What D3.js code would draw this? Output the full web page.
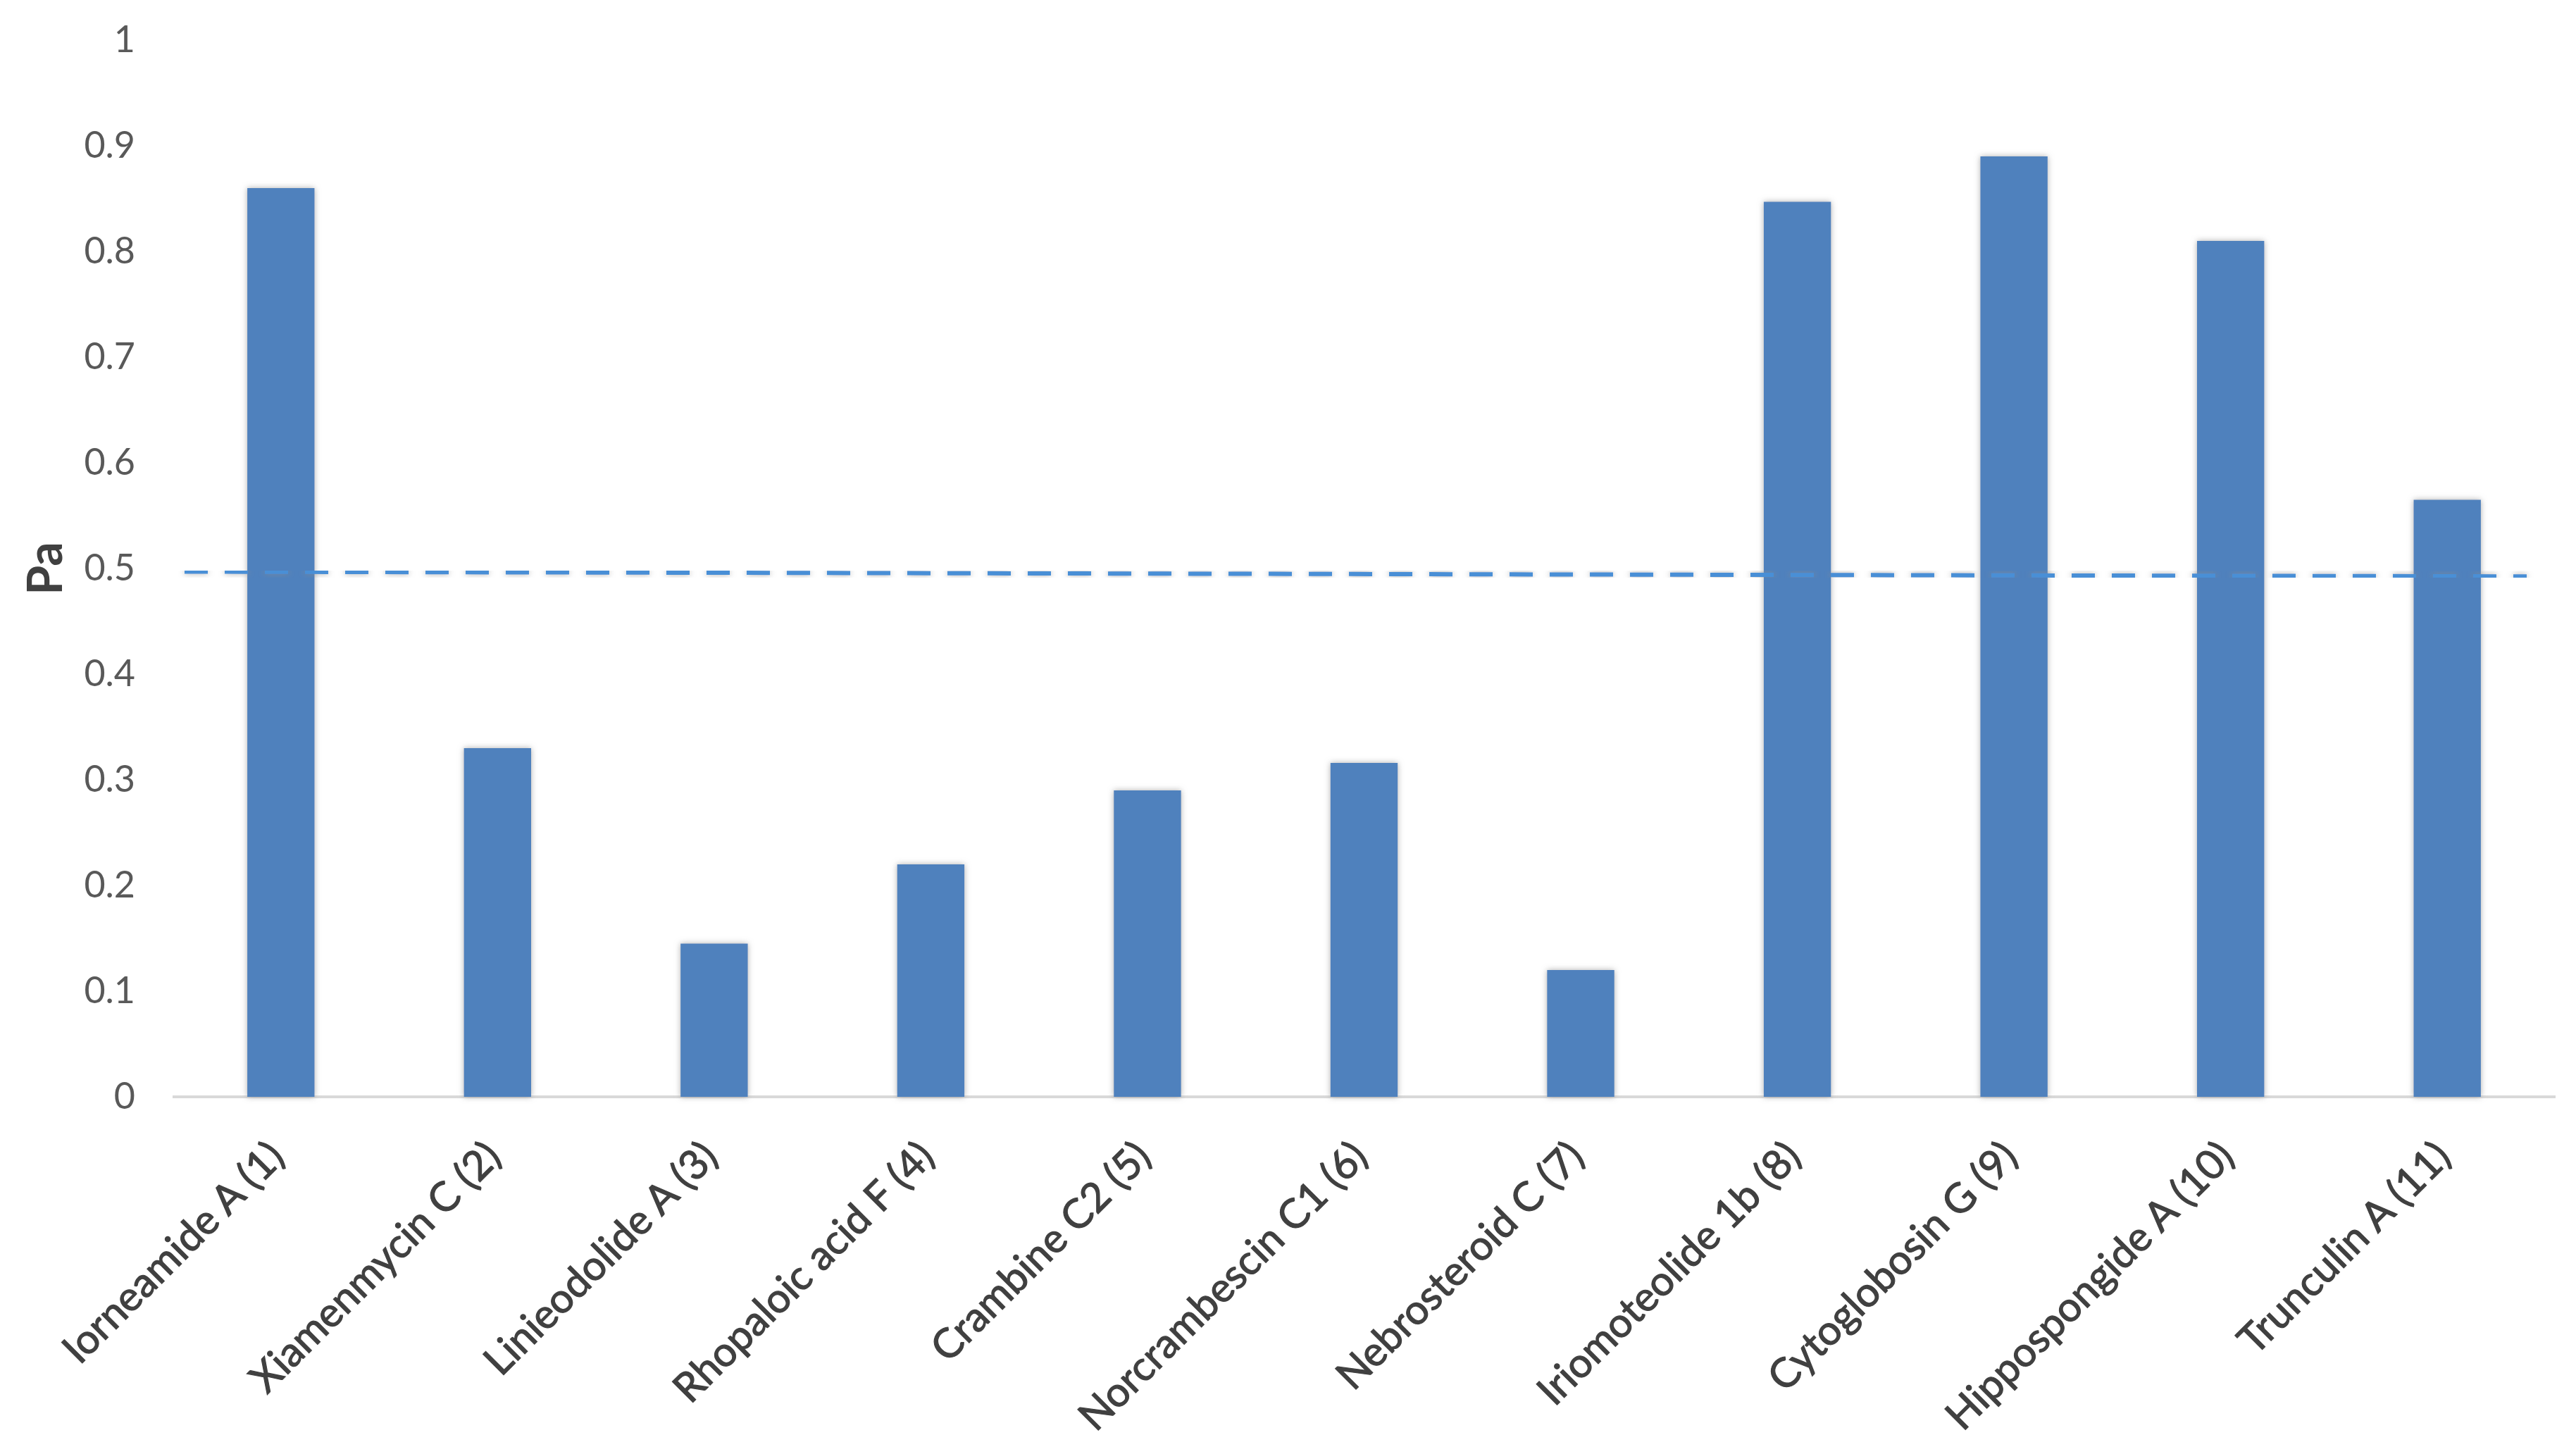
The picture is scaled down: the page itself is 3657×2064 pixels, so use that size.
<!DOCTYPE html>
<html>
<head>
<meta charset="utf-8">
<script src="https://cdn.jsdelivr.net/npm/d3@7"></script>
<style>
  html, body { margin: 0; padding: 0; background: #fff; }
  svg { display: block; }
</style>
</head>
<body>
<div id="chart"></div>
<script>
// compounds on the x axis
const categories = [
    "Iorneamide A (1)", "Xiamenmycin C (2)", "Linieodolide A (3)", "Rhopaloic acid F (4)",
    "Crambine C2 (5)", "Norcrambescin C1 (6)", "Nebrosteroid C (7)", "Iriomoteolide 1b (8)",
    "Cytoglobosin G (9)", "Hippospongide A (10)", "Trunculin A (11)"
];
// Pa values
const values = [0.86, 0.33, 0.145, 0.22, 0.29, 0.316, 0.12, 0.847, 0.89, 0.81, 0.565];
const yTicks = [0, 0.1, 0.2, 0.3, 0.4, 0.5, 0.6, 0.7, 0.8, 0.9, 1];
const yTickLabels = ["0", "0.1", "0.2", "0.3", "0.4", "0.5", "0.6", "0.7", "0.8", "0.9", "1"];
// dashed threshold line, value at left end and right end
const threshold = [0.497, 0.4925];

const width = 3657,
    height = 2064,
    margin = ({ top: 57, right: 29, bottom: 507, left: 245 });

const svg = d3.select("#chart")
    .append("svg")
    .attr("width", width)
    .attr("height", height);

// soft grey glow around the marks, like the excel shadow
const defs = svg.append("defs");
defs.append("filter")
    .attr("id", "glow")
    .attr("x", "-20%").attr("y", "-20%")
    .attr("width", "140%").attr("height", "140%")
    .append("feDropShadow")
    .attr("dx", 0).attr("dy", 0)
    .attr("stdDeviation", 4)
    .attr("flood-color", "#8c8c8c")
    .attr("flood-opacity", 0.7);

let x = d3.scaleBand(categories, [margin.left, width - margin.right])
    .paddingInner(0.69)
    .paddingOuter(0.345);

let y = d3.scaleLinear([0, 1], [height - margin.bottom, margin.top]);

// y axis labels only, no line
const yAxis = svg.append("g")
    .attr("transform", `translate(${margin.left - 50},0)`)
    .call(d3.axisLeft(y).tickValues(yTicks).tickSize(0).tickPadding(3)
        .tickFormat((d, i) => yTickLabels[i]));
yAxis.select(".domain").remove();
yAxis.selectAll("text")
    .attr("font-family", "Lato, 'Open Sans', sans-serif")
    .attr("font-size", 52)
    .attr("fill", "#595959");

// baseline
svg.append("line")
    .attr("x1", margin.left)
    .attr("x2", width - margin.right)
    .attr("y1", y(0))
    .attr("y2", y(0))
    .attr("stroke", "#d9d9d9")
    .attr("stroke-width", 4);

// bars
svg.append("g")
    .selectAll("rect")
    .data(values)
    .join("rect")
    .attr("x", (d, i) => x(categories[i]))
    .attr("y", d => y(d))
    .attr("width", x.bandwidth())
    .attr("height", d => y(0) - y(d))
    .attr("fill", "#4f81bd")
    .attr("filter", "url(#glow)");

// dashed threshold
svg.append("line")
    .attr("x1", margin.left + 17)
    .attr("x2", width - margin.right - 41)
    .attr("y1", y(threshold[0]))
    .attr("y2", y(threshold[1]))
    .attr("stroke", "#4a8fd6")
    .attr("stroke-width", 6)
    .attr("stroke-dasharray", "33,24")
    .attr("filter", "url(#glow)");

// rotated category labels (thin stroke to thicken them a bit)
svg.append("g")
    .selectAll("text")
    .data(categories)
    .join("text")
    .attr("transform", d => `translate(${x(d) + x.bandwidth() / 2 + 8},${y(0) + 88}) rotate(-45)`)
    .attr("text-anchor", "end")
    .attr("font-family", "Lato, 'Open Sans', sans-serif")
    .attr("font-size", 58)
    .attr("fill", "#404040")
    .attr("stroke", "#404040")
    .attr("stroke-width", 1.2)
    .text(d => d);

// y axis title
svg.append("text")
    .attr("transform", `translate(88,${y(0.5)}) rotate(-90)`)
    .attr("text-anchor", "middle")
    .attr("font-family", "Lato, 'Open Sans', sans-serif")
    .attr("font-weight", "bold")
    .attr("font-size", 68)
    .attr("fill", "#404040")
    .text("Pa");
</script>
</body>
</html>
